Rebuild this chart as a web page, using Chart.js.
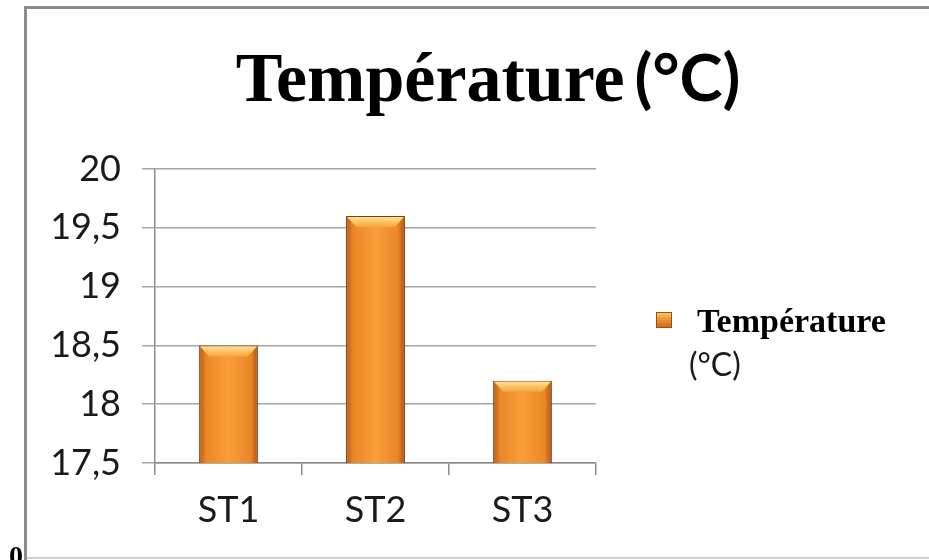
<!DOCTYPE html>
<html>
<head>
<meta charset="utf-8">
<script src="https://cdn.jsdelivr.net/npm/chart.js@4"></script>
<style>
  body { margin: 0; background: #fff; }
  canvas { display: block; }
</style>
</head>
<body>
<canvas id="tempChart" width="929" height="560"></canvas>
<script>
// data
var stations = ['ST1', 'ST2', 'ST3'];
var temperatures = [18.5, 19.6, 18.2];
var yMin = 17.5;
var yMax = 20;
var yStep = 0.5;
var titleMain = 'Température';
var titleUnit = '(°C)';
var strayLabel = '0';

var barPct = 0.4;

// frame, title, legend and bar bevel
var decorPlugin = {
    id: 'decor',
    beforeDraw: function (chart) {
        var ctx = chart.ctx;
        ctx.save();
        ctx.fillStyle = '#8c8c8c';
        ctx.fillRect(24, 6, 905, 3);
        ctx.fillRect(24, 6, 3, 554);
        ctx.fillStyle = '#d0d0d0';
        ctx.fillRect(27, 557, 902, 2);
        ctx.fillStyle = '#000';
        ctx.font = 'bold 28px "Liberation Serif"';
        ctx.textBaseline = 'alphabetic';
        ctx.fillText(strayLabel, 9, 565);
        ctx.restore();
    },
    afterDatasetsDraw: function (chart) {
        var ctx = chart.ctx;
        var meta = chart.getDatasetMeta(0);
        ctx.save();
        meta.data.forEach(function (bar) {
            var p = bar.getProps(['x', 'y', 'width'], true);
            var l = p.x - p.width / 2, r = p.x + p.width / 2;
            var g = ctx.createLinearGradient(0, p.y, 0, p.y + 11);
            g.addColorStop(0, '#fde79a');
            g.addColorStop(1, '#f7a53c');
            ctx.fillStyle = g;
            ctx.beginPath();
            ctx.moveTo(l + 1, p.y + 1);
            ctx.lineTo(r - 1, p.y + 1);
            ctx.lineTo(r - 10, p.y + 11);
            ctx.lineTo(l + 10, p.y + 11);
            ctx.closePath();
            ctx.fill();
        });
        ctx.restore();
    },
    afterDraw: function (chart) {
        var ctx = chart.ctx;
        ctx.save();
        // title: serif word + sans unit
        var serif = 'bold 70px "Liberation Serif"';
        var sans = 'bold 65px Lato';
        ctx.font = serif;
        var w1 = ctx.measureText(titleMain).width;
        ctx.font = sans;
        var w2 = ctx.measureText(titleUnit).width;
        var gap = 10;
        var x0 = 488 - (w1 + gap + w2) / 2;
        ctx.fillStyle = '#000';
        ctx.textBaseline = 'alphabetic';
        ctx.font = serif;
        ctx.fillText(titleMain, x0, 101);
        ctx.font = sans;
        ctx.fillText(titleUnit, x0 + w1 + gap, 101);

        // legend
        var bx = 656, by = 312, bs = 16;
        var g = ctx.createLinearGradient(bx, by, bx, by + bs);
        g.addColorStop(0, '#fbd27a');
        g.addColorStop(0.4, '#f39a36');
        g.addColorStop(1, '#c9681c');
        ctx.fillStyle = g;
        ctx.fillRect(bx, by, bs, bs);
        ctx.strokeStyle = '#9a5214';
        ctx.lineWidth = 1;
        ctx.strokeRect(bx + 0.5, by + 0.5, bs - 1, bs - 1);
        ctx.fillStyle = '#000';
        ctx.font = 'bold 34px "Liberation Serif"';
        ctx.fillText(titleMain, 697, 332);
        ctx.fillStyle = '#1a1a1a';
        ctx.font = '32px Lato';
        ctx.fillText(titleUnit, 689, 376);
        ctx.restore();
    }
};

function barFill(context) {
    var chart = context.chart;
    var xs = chart.scales.x;
    if (!chart.chartArea || !xs) return '#f39430';
    var cx = xs.getPixelForValue(context.dataIndex);
    var hw = (xs.getPixelForValue(1) - xs.getPixelForValue(0)) * barPct / 2;
    var g = chart.ctx.createLinearGradient(cx - hw, 0, cx + hw, 0);
    g.addColorStop(0, '#b65a15');
    g.addColorStop(0.12, '#ec8727');
    g.addColorStop(0.5, '#f99d3a');
    g.addColorStop(0.88, '#ec8727');
    g.addColorStop(1, '#a85212');
    return g;
}

new Chart(document.getElementById('tempChart'), {
    type: 'bar',
    data: {
        labels: stations,
        datasets: [{
            label: titleMain + ' ' + titleUnit,
            data: temperatures,
            backgroundColor: barFill,
            borderColor: '#7a3f10',
            borderWidth: 1,
            barPercentage: barPct,
            categoryPercentage: 1
        }]
    },
    options: {
        responsive: false,
        animation: false,
        layout: {
            padding: { top: 169, right: 333, bottom: 0, left: 0 }
        },
        plugins: {
            legend: { display: false },
            title: { display: false },
            tooltip: { enabled: false }
        },
        scales: {
            x: {
                grid: {
                    offset: true,
                    drawOnChartArea: false,
                    drawTicks: true,
                    tickLength: 12,
                    color: '#8c8c8c',
                    lineWidth: 1.5
                },
                border: { color: '#8c8c8c', width: 1.5 },
                ticks: {
                    font: { family: 'Lato', size: 36 },
                    color: '#1a1a1a',
                    padding: 14
                },
                afterFit: function (scale) { scale.height = 97; }
            },
            y: {
                min: yMin,
                max: yMax,
                grid: {
                    color: '#a6a6a6',
                    lineWidth: 1.5,
                    tickLength: 13
                },
                border: { color: '#8c8c8c', width: 1.5 },
                ticks: {
                    stepSize: yStep,
                    font: { family: 'Lato', size: 36 },
                    color: '#1a1a1a',
                    padding: 21,
                    callback: function (v) { return String(v).replace('.', ','); }
                },
                afterFit: function (scale) { scale.width = 155; }
            }
        }
    },
    plugins: [decorPlugin]
});
</script>
</body>
</html>
